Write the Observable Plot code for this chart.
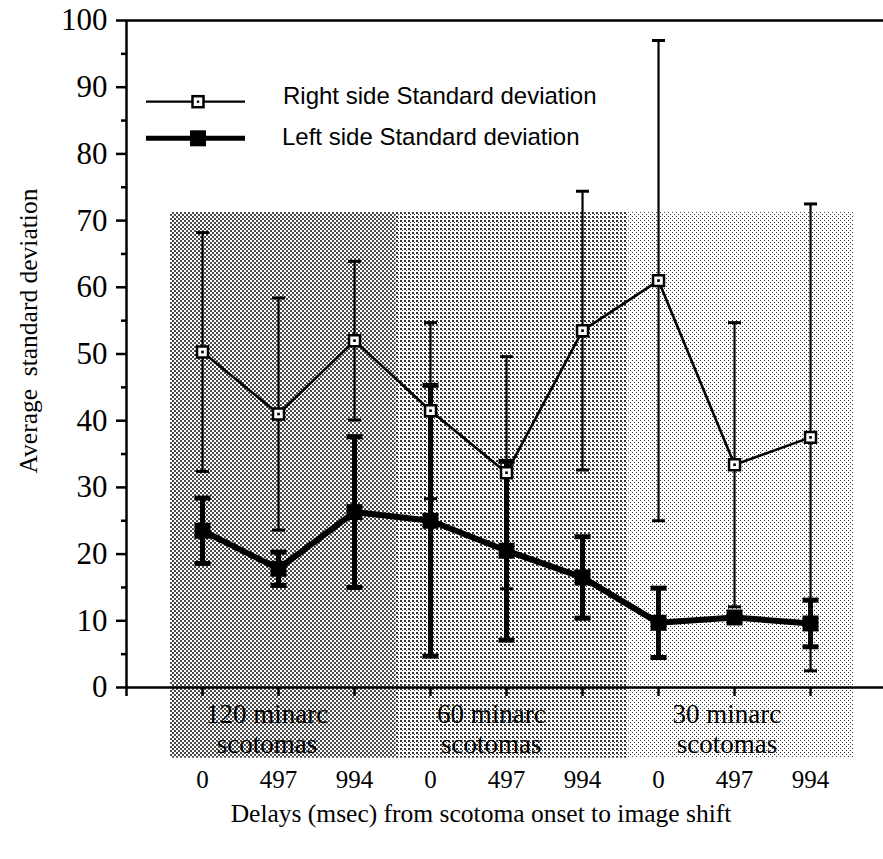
<!DOCTYPE html>
<html><head><meta charset="utf-8">
<script src="https://cdn.jsdelivr.net/npm/d3@7"></script>
<script src="https://cdn.jsdelivr.net/npm/@observablehq/plot@0.6"></script>
<style>
body{margin:0;background:#fff}
#chart{position:relative;width:883px;height:859px}
#legend{position:absolute;left:0;top:0}
</style>
</head><body><div id="chart"></div>
<script>
// ---- data ----
const delays = ["0","497","994","0","497","994","0","497","994"];
const groupLabels = ["120 minarc\nscotomas","60 minarc\nscotomas","30 minarc\nscotomas"];
const groupStart = [-0.42, 2.55, 5.61];
const groupEnd = [2.55, 5.61, 8.57];
const groupMid = [0.85, 3.8, 6.9];
const shadeTop = 71.2;
const shadeBottom = -10.6;
const rightMean = [50.3, 41, 52, 41.5, 32.2, 53.5, 61, 33.4, 37.5];
const rightSD   = [17.9, 17.4, 11.9, 13.2, 17.4, 20.9, 36, 21.3, 35];
const leftMean  = [23.5, 17.8, 26.3, 25, 20.5, 16.5, 9.7, 10.5, 9.6];
const leftSD    = [4.9, 2.5, 11.3, 20.3, 13.4, 6.1, 5.2, 0, 3.5];
const yTicks = d3.range(0, 101, 10);
const yMinor = d3.range(5, 100, 10);
const seriesNames = ["Right side Standard deviation", "Left side Standard deviation"];
const yTitle = "Average\u00a0 standard deviation";
const xTitle = "Delays (msec) from scotoma onset to image shift";

// ---- tables ----
const right = rightMean.map((m, i) => ({i, m, lo: m - rightSD[i], hi: m + rightSD[i]}));
const left = leftMean.map((m, i) => ({i, m, lo: m - leftSD[i], hi: m + leftSD[i]}));
const shades = groupLabels.map((g, k) => ({k, x1: groupStart[k], x2: groupEnd[k]}));

const serif = "'Liberation Serif', 'Times New Roman', serif";
const xDomain = [-1, 8.96];
const cap = {draw(ctx, size) { const w = Math.sqrt(size / Math.PI); ctx.moveTo(-w, 0); ctx.lineTo(w, 0); }};

const svg = Plot.plot({
  width: 883, height: 859,
  marginTop: 20, marginBottom: 172, marginLeft: 126, marginRight: 0,
  x: {domain: xDomain},
  y: {domain: [0, 100]},
  style: {background: "white", color: "black"},
  marks: [
    Plot.rect(shades, {x1: "x1", x2: "x2", y1: shadeBottom, y2: shadeTop, fill: d => `url(#shade${d.k})`}),
    Plot.ruleY([0, 100], {stroke: "black", strokeWidth: 2.5}),
    Plot.ruleX([xDomain[0]], {stroke: "black", strokeWidth: 2.5}),
    Plot.axisY(yTicks, {tickSize: 10, tickPadding: 9, fontSize: 31, fontFamily: serif, strokeWidth: 2.5, label: null}),
    Plot.axisY(yMinor, {tickSize: 5, tickFormat: () => "", strokeWidth: 2.5, label: null}),
    Plot.axisX([xDomain[0], 0, 1, 2, 3, 4, 5, 6, 7, 8], {tickSize: 9, tickPadding: 74, tickFormat: i => delays[i] ?? "", fontSize: 25, fontFamily: serif, strokeWidth: 2.5, label: null}),
    // right side series
    Plot.ruleX(right, {x: "i", y1: "lo", y2: "hi", stroke: "black", strokeWidth: 2.2}),
    Plot.dot(right.flatMap(d => [{i: d.i, v: d.lo}, {i: d.i, v: d.hi}]), {x: "i", y: "v", symbol: cap, r: 6.5, fill: "none", stroke: "black", strokeWidth: 3}),
    Plot.line(right, {x: "i", y: "m", stroke: "black", strokeWidth: 2.6}),
    // left side series
    Plot.ruleX(left.filter(d => d.hi > d.lo), {x: "i", y1: "lo", y2: "hi", stroke: "black", strokeWidth: 5}),
    Plot.dot(left.filter(d => d.hi > d.lo).flatMap(d => [{i: d.i, v: d.lo}, {i: d.i, v: d.hi}]), {x: "i", y: "v", symbol: cap, r: 8, fill: "none", stroke: "black", strokeWidth: 5}),
    Plot.line(left, {x: "i", y: "m", stroke: "black", strokeWidth: 6}),
    Plot.dot(left, {x: "i", y: "m", symbol: "square", r: 9, fill: "black", stroke: "none"}),
    Plot.dot(right, {x: "i", y: "m", symbol: "square", r: 6.2, fill: "white", stroke: "black", strokeWidth: 2.5}),
    Plot.dot(right, {x: "i", y: "m", symbol: "square", r: 1.5, fill: "black", stroke: "none"}),
    // group labels
    Plot.text(groupLabels, {x: (d, i) => groupMid[i], y: -6.1, text: d => d, fontSize: 27, fontFamily: serif, lineHeight: 1.12, fill: "black"}),
    // axis titles
    Plot.text([xTitle], {frameAnchor: "bottom", dx: -24, dy: 134, fontSize: 25.5, fontFamily: serif, fill: "black"}),
    Plot.text([yTitle], {frameAnchor: "left", textAnchor: "middle", dx: -98, dy: -23, rotate: -90, fontSize: 25.5, fontFamily: serif, fill: "black"})
  ]
});

const ns = "http://www.w3.org/2000/svg";
const defs = document.createElementNS(ns, "defs");
defs.innerHTML =
  `<pattern id="shade0" width="4" height="4" patternUnits="userSpaceOnUse"><rect width="4" height="4" fill="#fff"/><rect x="0" y="0" width="2" height="2" fill="#4a4a4a"/><rect x="2" y="2" width="2" height="2" fill="#4a4a4a"/></pattern>` +
  `<pattern id="shade1" width="4" height="4" patternUnits="userSpaceOnUse"><rect width="4" height="4" fill="#fff"/><rect x="0" y="0" width="2" height="2" fill="#333"/><rect x="2" y="2" width="1" height="1" fill="#333"/></pattern>` +
  `<pattern id="shade2" width="4" height="4" patternUnits="userSpaceOnUse"><rect width="4" height="4" fill="#fff"/><rect x="0" y="0" width="1" height="1" fill="#333"/><rect x="2" y="2" width="1" height="1" fill="#333"/></pattern>`;
svg.insertBefore(defs, svg.firstChild);
const chart = document.getElementById("chart");
chart.appendChild(svg);

// legend (above the svg)
const sans = "'Liberation Sans', Arial, Helvetica, sans-serif";
const lg = document.createElementNS(ns, "svg");
lg.setAttribute("id", "legend");
lg.setAttribute("width", 883); lg.setAttribute("height", 180);
const rows = [
  {name: seriesNames[0], y: 101.7, w: 2.2, sq: 11, open: true, tx: 283, ty: 103.5},
  {name: seriesNames[1], y: 138.3, w: 5, sq: 16, open: false, tx: 282, ty: 145}
];
lg.innerHTML = rows.map(r => `
  <line x1="146" x2="245" y1="${r.y}" y2="${r.y}" stroke="black" stroke-width="${r.w}"/>
  <rect x="${198 - r.sq/2}" y="${r.y - r.sq/2}" width="${r.sq}" height="${r.sq}" fill="${r.open ? 'white' : 'black'}" stroke="black" stroke-width="${r.open ? 2.5 : 0}"/>
  ${r.open ? `<rect x="196.8" y="${r.y - 1.2}" width="2.4" height="2.4" fill="black"/>` : ""}
  <text x="${r.tx}" y="${r.ty}" font-family="${sans}" font-size="24" fill="black">${r.name}</text>`).join("");
chart.appendChild(lg);
</script>
</body></html>
